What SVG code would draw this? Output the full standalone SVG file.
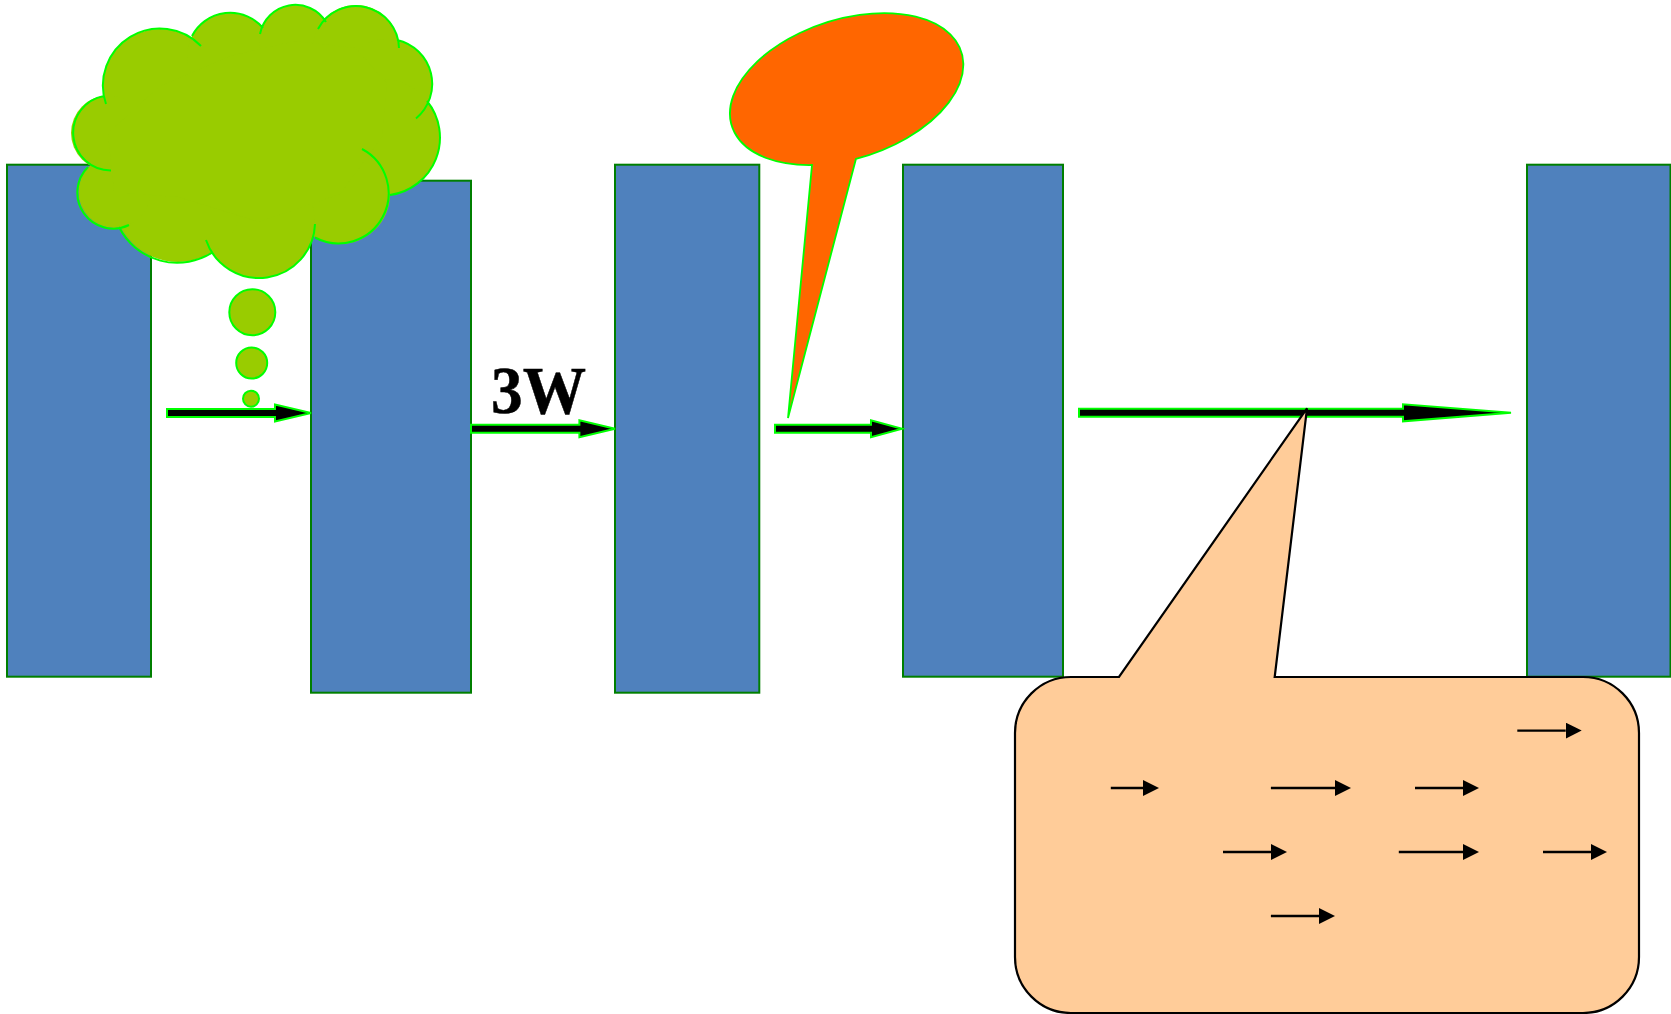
<svg xmlns="http://www.w3.org/2000/svg" width="1671" height="1014" viewBox="0 0 1671 1014">
<style>
.bar{fill:#4f81bd;stroke:#007f00;stroke-width:2}
.block{fill:#000;stroke:#00ff00;stroke-width:2}
.cloud{fill:#99cc00;stroke:none}
.edge{fill:none;stroke:#00ff00;stroke-width:2}
.bub{fill:#99cc00;stroke:#00ff00;stroke-width:2}
.small{stroke:#000;stroke-width:2.4;fill:none;marker-end:url(#tri)}
</style>
<defs>
<marker id="tri" markerUnits="userSpaceOnUse" markerWidth="17" markerHeight="16" refX="0" refY="8" orient="auto"><path d="M0,0L16,8L0,16Z" fill="#000"/></marker>
</defs>
<rect width="1671" height="1014" fill="#fff"/>
<g id="bar-1"><rect class="bar" x="7" y="164.7" width="144" height="512"/></g>
<g id="bar-2"><rect class="bar" x="311" y="180.7" width="160" height="512"/></g>
<g id="bar-3"><rect class="bar" x="615" y="164.7" width="144.3" height="528"/></g>
<g id="bar-4"><rect class="bar" x="903" y="164.7" width="160" height="512"/></g>
<g id="bar-5"><rect class="bar" x="1527" y="164.7" width="143.5" height="512"/></g>
<g id="connectors">
<path class="block" d="M167,409V417H275V421.5L311,413L275,404.5V409Z"/>
<path class="block" d="M471,424.7V432.7H579.4V437.2L615,428.7L579.4,420.2V424.7Z"/>
<path class="block" d="M775,424.7V432.7H871V437.2L902,428.7L871,420.2V424.7Z"/>
<path class="block" d="M1079,408.8V416.8H1403V421.3L1511,412.8L1403,404.3V408.8Z"/>
</g>
<g id="thought-cloud">
<circle class="cloud" cx="160" cy="86" r="57"/>
<circle class="cloud" cx="230" cy="56" r="43"/>
<circle class="cloud" cx="295" cy="41" r="36"/>
<circle class="cloud" cx="356" cy="48" r="43"/>
<circle class="cloud" cx="387" cy="84" r="45"/>
<circle class="cloud" cx="382" cy="137" r="58"/>
<circle class="cloud" cx="340" cy="194" r="50"/>
<circle class="cloud" cx="259" cy="222" r="56"/>
<circle class="cloud" cx="178" cy="197" r="65"/>
<circle class="cloud" cx="114.5" cy="192" r="36"/>
<circle class="cloud" cx="108.5" cy="133" r="37.5"/>
<path class="cloud" d="M160,86L230,56L295,41L356,48L387,84L382,137L340,194L259,222L178,197L114,192L108,133Z"/>
<path class="edge" d="M106,104A57,57 0 0 1 201,46M192,36A43,43 0 0 1 263,28M260,34A36,36 0 0 1 326,22M318,29A43,43 0 0 1 399,48M397,40A45,45 0 0 1 416,118.5M427,101A58,58 0 0 1 390,195M362,149A50,50 0 1 1 315,237.5M315,224A56,56 0 0 1 206,240M213,252A65,65 0 0 1 119,227M129,225A36,36 0 0 1 88,167M111,170.4A37.5,37.5 0 0 1 104,96"/>
<circle class="bub" cx="252.3" cy="312.3" r="23"/>
<circle class="bub" cx="251.7" cy="363" r="15.5"/>
<circle class="bub" cx="251" cy="398.7" r="8"/>
</g>
<g id="label-3w"><text x="491" y="412.5" font-family="'Liberation Serif','Times New Roman',serif" font-weight="700" font-size="68" textLength="95" lengthAdjust="spacingAndGlyphs" stroke="#000" stroke-width="0.5" fill="#000">3W</text></g>
<g id="orange-callout"><path d="M812,165L788,418L856,158.8A120.6,69.6 -18 1 0 812,165Z" fill="#ff6600" stroke="#00ff00" stroke-width="1.8"/></g>
<g id="peach-callout">
<path d="M1071,677H1119L1307,408.3L1274.7,677H1583A56,56 0 0 1 1639,733V957A56,56 0 0 1 1583,1013H1071A56,56 0 0 1 1015,957V733A56,56 0 0 1 1071,677Z" fill="#ffcc99" stroke="#000" stroke-width="2.2"/>
<line class="small" x1="1517.3" y1="730.6" x2="1565.7" y2="730.6"/>
<line class="small" x1="1110.8" y1="788" x2="1143" y2="788"/>
<line class="small" x1="1270.9" y1="788" x2="1335" y2="788"/>
<line class="small" x1="1415" y1="788" x2="1463" y2="788"/>
<line class="small" x1="1223" y1="852" x2="1271" y2="852"/>
<line class="small" x1="1398.8" y1="852" x2="1463" y2="852"/>
<line class="small" x1="1543" y1="852" x2="1591" y2="852"/>
<line class="small" x1="1270.9" y1="916" x2="1319" y2="916"/>
</g>
</svg>
